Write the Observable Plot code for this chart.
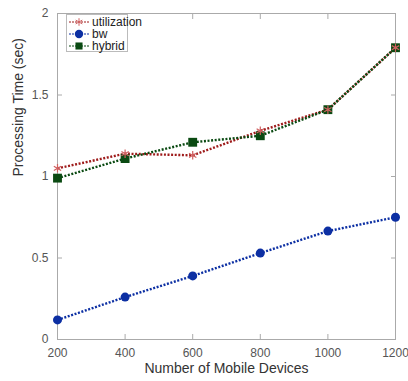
<!DOCTYPE html>
<html><head><meta charset="utf-8">
<script src="https://cdn.jsdelivr.net/npm/d3@7"></script>
<script src="https://cdn.jsdelivr.net/npm/@observablehq/plot@0.6"></script>
<style>
body{margin:0;background:#fff;font-family:"Liberation Sans",Arial,sans-serif;}
#wrap{position:relative;width:408px;height:381px;}
#legend{position:absolute;left:66px;top:14px;width:62px;height:38px;border:1px solid #bbb;background:#fff;box-sizing:border-box;}
#legend svg{position:absolute;left:0;top:0;overflow:visible;}
</style></head><body>
<div id="wrap"><div id="legend"></div></div>
<script>
const devices = [200, 400, 600, 800, 1000, 1200];
const utilization = [1.05, 1.14, 1.13, 1.28, 1.41, 1.79];
const bw = [0.12, 0.26, 0.39, 0.53, 0.665, 0.75];
const hybrid = [0.99, 1.11, 1.21, 1.25, 1.41, 1.79];
const seriesNames = ["utilization", "bw", "hybrid"];
const xTicks = [200, 400, 600, 800, 1000, 1200];
const yTicks = [0, 0.5, 1, 1.5, 2];

const colors = {utilization: "#9e1b1b", bw: "#0c2fa3", hybrid: "#0a4a12"};
const rows = [];
const vals = {utilization, bw, hybrid};
for (const s of seriesNames) devices.forEach((d, i) => rows.push({series: s, x: d, y: vals[s][i]}));
const sel = s => rows.filter(r => r.series === s);

const grey = "#aaaaaa";
const lineOpts = s => ({x: "x", y: "y", stroke: colors[s], strokeWidth: 2.4, strokeDasharray: "2,1.6", strokeLinecap: "butt"});
const chart = Plot.plot({
  width: 408, height: 381,
  marginLeft: 57, marginRight: 13, marginTop: 13, marginBottom: 42,
  style: {fontFamily: "Liberation Sans, Arial, sans-serif", fontSize: "12px", color: "#555", background: "#fff"},
  x: {domain: [200, 1200]},
  y: {domain: [0, 2]},
  marks: [
    Plot.frame({stroke: grey}),
    Plot.axisX(xTicks, {anchor: "bottom", tickSize: 0, tickPadding: 9, fontSize: 12, fill: "#555", tickFormat: d => String(d), label: null}),
    Plot.axisX(xTicks, {anchor: "bottom", tickSize: -5, stroke: grey, tickFormat: () => "", label: null}),
    Plot.axisX(xTicks, {anchor: "top", tickSize: -5, stroke: grey, tickFormat: () => "", label: null}),
    Plot.axisY(yTicks, {anchor: "left", tickSize: 0, tickPadding: 9, fontSize: 12, fill: "#555", tickFormat: d => String(d), label: null}),
    Plot.axisY(yTicks, {anchor: "left", tickSize: -5, stroke: grey, tickFormat: () => "", label: null}),
    Plot.axisY(yTicks, {anchor: "right", tickSize: -5, stroke: grey, tickFormat: () => "", label: null}),
    Plot.text(["Number of Mobile Devices"], {frameAnchor: "bottom", dy: 33, fontSize: 14, fill: "#333"}),
    Plot.text(["Processing Time (sec)"], {frameAnchor: "left", dx: -39, rotate: -90, fontSize: 14, fill: "#333"}),
    Plot.line(sel("utilization"), lineOpts("utilization")),
    Plot.line(sel("hybrid"), lineOpts("hybrid")),
    Plot.line(sel("bw"), lineOpts("bw")),
    Plot.dot(sel("hybrid"), {x: "x", y: "y", symbol: "square", r: 5, fill: colors.hybrid}),
    Plot.dot(sel("utilization"), {x: "x", y: "y", symbol: "asterisk", r: 4, stroke: "#d06060", strokeWidth: 1.2}),
    Plot.dot(sel("bw"), {x: "x", y: "y", symbol: "circle", r: 4.5, fill: colors.bw})
  ]
});
document.getElementById("wrap").prepend(chart);

// legend
const lg = d3.select("#legend").append("svg").attr("width", 62).attr("height", 38);
const syms = {utilization: d3.symbolAsterisk, bw: d3.symbolCircle, hybrid: d3.symbolSquare};
seriesNames.forEach((s, i) => {
  const g = lg.append("g").attr("transform", `translate(0,${7 + i * 12})`);
  g.append("line").attr("x1", 2).attr("x2", 22).attr("stroke", colors[s]).attr("stroke-width", 1).attr("stroke-dasharray", "2,1");
  const sym = g.append("path").attr("transform", "translate(12,0)");
  if (s === "utilization") sym.attr("d", d3.symbol(syms[s], 40)()).attr("fill", "none").attr("stroke", "#d06060");
  else sym.attr("d", d3.symbol(syms[s], s === "bw" ? 55 : 50)()).attr("fill", colors[s]);
  g.append("text").attr("x", 25).attr("y", 4.2).attr("font-size", 12).attr("fill", "#222").attr("font-family", "Liberation Sans, Arial, sans-serif").text(s);
});
</script></body></html>
